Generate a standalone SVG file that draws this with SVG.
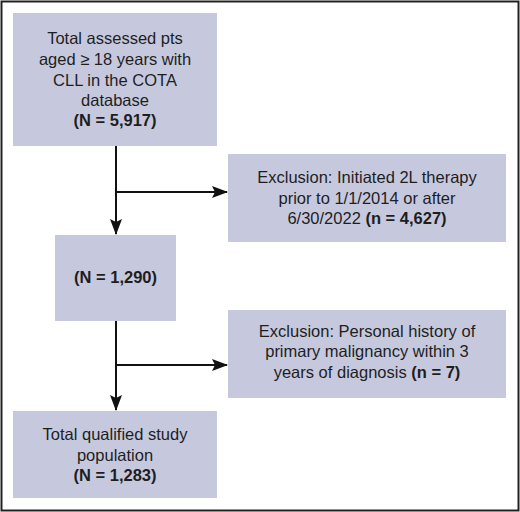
<svg xmlns="http://www.w3.org/2000/svg" width="520" height="512" viewBox="0 0 520 512">
<defs>
<style>
.box{fill:#c6c9de;}
.t{font-family:"Liberation Sans",Arial,sans-serif;font-size:16.5px;fill:#1e1e1e;text-anchor:middle;}
.b{font-weight:bold;}
.ln{stroke:#111;stroke-width:2;fill:none;}
</style>
<marker id="ah" markerWidth="16" markerHeight="14" refX="15" refY="7" orient="auto" markerUnits="userSpaceOnUse">
<path d="M0,1 L16,7 L0,13 L3,7 Z" fill="#111"/>
</marker>
</defs>
<rect x="0" y="0" width="520" height="512" fill="#fff"/>
<rect x="1.5" y="1.5" width="517" height="509" fill="none" stroke="#222" stroke-width="2"/>
<g id="connectors">
<line class="ln" x1="116" y1="146" x2="116" y2="234" marker-end="url(#ah)"/>
<line class="ln" x1="116" y1="192" x2="227" y2="192" marker-end="url(#ah)"/>
<line class="ln" x1="116" y1="321" x2="116" y2="410" marker-end="url(#ah)"/>
<line class="ln" x1="116" y1="365" x2="227" y2="365" marker-end="url(#ah)"/>
</g>
<g id="n1">
<rect class="box" x="13" y="13" width="204" height="133"/>
<text class="t" x="115" y="44">Total assessed pts</text>
<text class="t" x="115" y="65">aged ≥ 18 years with</text>
<text class="t" x="115" y="86">CLL in the COTA</text>
<text class="t" x="115" y="106">database</text>
<text class="t b" x="115" y="126">(N = 5,917)</text>
</g>
<g id="n2">
<rect class="box" x="228" y="154" width="278" height="88"/>
<text class="t" x="367" y="183">Exclusion: Initiated 2L therapy</text>
<text class="t" x="367" y="204">prior to 1/1/2014 or after</text>
<text class="t" x="367" y="224">6/30/2022 <tspan class="b">(n = 4,627)</tspan></text>
</g>
<g id="n3">
<rect class="box" x="55" y="235" width="121" height="86"/>
<text class="t b" x="115.5" y="283">(N = 1,290)</text>
</g>
<g id="n4">
<rect class="box" x="228" y="310" width="278" height="88"/>
<text class="t" x="367" y="337">Exclusion: Personal history of</text>
<text class="t" x="367" y="357">primary malignancy within 3</text>
<text class="t" x="367" y="378">years of diagnosis <tspan class="b">(n = 7)</tspan></text>
</g>
<g id="n5">
<rect class="box" x="13" y="411" width="204" height="87"/>
<text class="t" x="115" y="440">Total qualified study</text>
<text class="t" x="115" y="461">population</text>
<text class="t b" x="115" y="481">(N = 1,283)</text>
</g>
</svg>
